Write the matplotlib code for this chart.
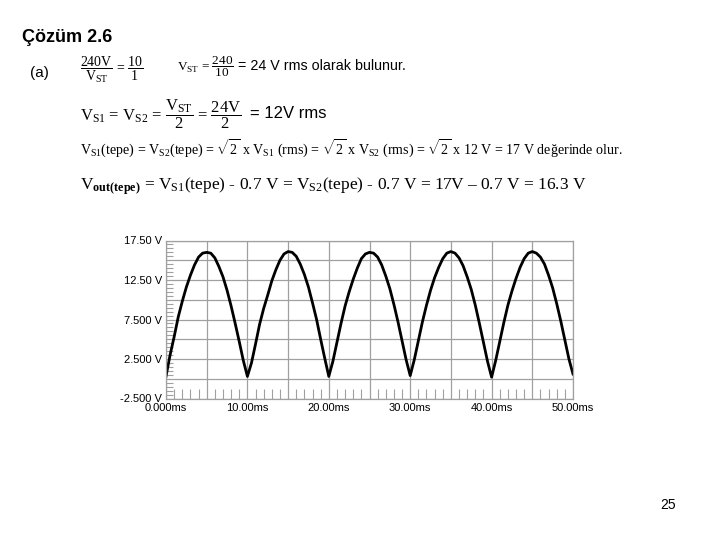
#!/usr/bin/env python3
"""
Slide 25: Cozum 2.6 - full-wave rectifier output voltage (center-tapped transformer).
Writes out.png (720x540).
"""
import matplotlib
matplotlib.use("Agg")
import matplotlib.pyplot as plt
import numpy as np
from matplotlib.ticker import MultipleLocator, FixedLocator

plt.rcParams["mathtext.fontset"] = "custom"
plt.rcParams["mathtext.rm"] = "Liberation Serif"
plt.rcParams["mathtext.it"] = "Liberation Serif:italic"
plt.rcParams["mathtext.bf"] = "Liberation Serif:bold"

# time axis of the scope trace (ms), sampled every 0.5 ms
t_ms = np.arange(0, 50.5, 0.5)

# output voltage (V), one list per 10 ms half-wave
v_cycle1 = [0.3, 3.0, 5.3, 7.8, 9.8, 11.6, 13.1, 14.4, 15.4, 15.9, 16.0,
            15.9, 15.3, 14.2, 12.9, 11.2, 9.2, 7.0, 4.7, 2.3, 0.3]
v_cycle2 = [2.0, 4.4, 6.9, 8.9, 10.6, 12.4, 13.8, 15.0, 15.8, 16.1,
            16.0, 15.5, 14.5, 13.2, 11.6, 9.6, 7.5, 5.0, 2.6, 0.3]
v_cycle3 = [2.2, 4.6, 7.0, 9.2, 11.0, 12.6, 14.0, 15.2, 15.8, 16.0,
            15.9, 15.4, 14.4, 13.0, 11.4, 9.4, 7.2, 4.8, 2.4, 0.4]
v_cycle4 = [2.4, 4.8, 7.2, 9.3, 11.2, 12.8, 14.1, 15.2, 15.9, 16.1,
            15.9, 15.3, 14.3, 12.9, 11.3, 9.3, 7.0, 4.6, 2.2, 0.2]
v_cycle5 = [2.3, 4.7, 7.1, 9.3, 11.1, 12.7, 14.1, 15.2, 15.9, 16.1,
            15.9, 15.4, 14.5, 13.1, 11.5, 9.5, 7.3, 4.9, 2.5, 0.6]
v_out = v_cycle1 + v_cycle2 + v_cycle3 + v_cycle4 + v_cycle5

y_ticks = [-2.5, 0, 2.5, 5, 7.5, 10, 12.5, 15, 17.5]
y_labels = ["-2.500 V", "", "2.500 V", "", "7.500 V", "", "12.50 V", "", "17.50 V"]
x_ticks = [0, 5, 10, 15, 20, 25, 30, 35, 40, 45, 50]
x_labels = ["0.000ms", "", "10.00ms", "", "20.00ms", "", "30.00ms", "", "40.00ms", "", "50.00ms"]

W, H = 720, 540
fig = plt.figure(figsize=(7.2, 5.4), dpi=100)


def px(x, y):
    return x / W, 1 - y / H


serif = "Liberation Serif"
sans = "Liberation Sans"

# ---- slide text ----
fig.text(*px(22, 37), "Çözüm 2.6", fontsize=13, fontweight="bold", family=sans, va="center")
fig.text(*px(30, 73), "(a)", fontsize=11, family=sans, va="center")
fig.text(*px(80, 70), r"$\dfrac{\rm 240V}{\rm V_{ST}}$ = $\dfrac{\rm 10}{\rm 1}$",
         fontsize=10, family=serif, va="center")
fig.text(*px(177, 67), r"V$_{\rm ST}$ = $\dfrac{\rm 240}{\rm 10}$", fontsize=9.5, family=serif, va="center")
fig.text(*px(238, 66), "= 24 V rms olarak bulunur.", fontsize=10.3, family=sans, va="center")

fig.text(*px(80, 114), r"V$_{\rm S1}$ = V$_{\rm S2}$ = $\dfrac{\rm V_{ST}}{\rm 2}$ = $\dfrac{\rm 24V}{\rm 2}$",
         fontsize=12, family=serif, va="center")
fig.text(*px(250, 113), "= 12V rms", fontsize=12, family=sans, va="center")

fig.text(*px(80, 149),
         r"V$_{\rm S1}$(tepe) = V$_{\rm S2}$(tepe) = $\sqrt{2}$ x V$_{\rm S1}$ (rms) = "
         r"$\sqrt{2}$ x V$_{\rm S2}$ (rms) = $\sqrt{2}$ x 12 V = 17 V değerinde olur.",
         fontsize=10.1, family=serif, va="center")
fig.text(*px(80, 186),
         r"V$_{\bf out(tepe)}$ = V$_{\rm S1}$(tepe) - 0.7 V = V$_{\rm S2}$(tepe) - 0.7 V = 17V – 0.7 V = 16.3 V",
         fontsize=12.5, family=serif, va="center")

fig.text(*px(668, 505), "25", fontsize=10, family=sans, ha="center", va="center")

# ---- scope plot ----
x0, x1, y0, y1 = 166, 573, 240.5, 398.5
ax = fig.add_axes([x0 / W, 1 - y1 / H, (x1 - x0) / W, (y1 - y0) / H])
ax.plot(t_ms, v_out, color="black", linewidth=2.0, solid_joinstyle="round")
ax.set_xlim(0, 50)
ax.set_ylim(-2.5, 17.5)

grid_c = "#a0a0a0"
ax.xaxis.set_major_locator(FixedLocator(x_ticks))
ax.set_xticklabels(x_labels)
ax.yaxis.set_major_locator(FixedLocator(y_ticks))
ax.set_yticklabels(y_labels)
ax.xaxis.set_minor_locator(MultipleLocator(1))
ax.yaxis.set_minor_locator(MultipleLocator(0.5))
ax.grid(True, which="major", color=grid_c, linewidth=0.9)
ax.tick_params(which="major", length=0, labelsize=8, pad=3)
ax.tick_params(which="minor", direction="in", color=grid_c, width=0.8)
ax.tick_params(axis="x", which="minor", length=7)
ax.tick_params(axis="y", which="minor", length=5)
for lbl in ax.get_xticklabels() + ax.get_yticklabels():
    lbl.set_family(sans)
for s in ax.spines.values():
    s.set_color(grid_c)
    s.set_linewidth(0.9)
ax.set_axisbelow(True)

fig.savefig("out.png", dpi=100)
